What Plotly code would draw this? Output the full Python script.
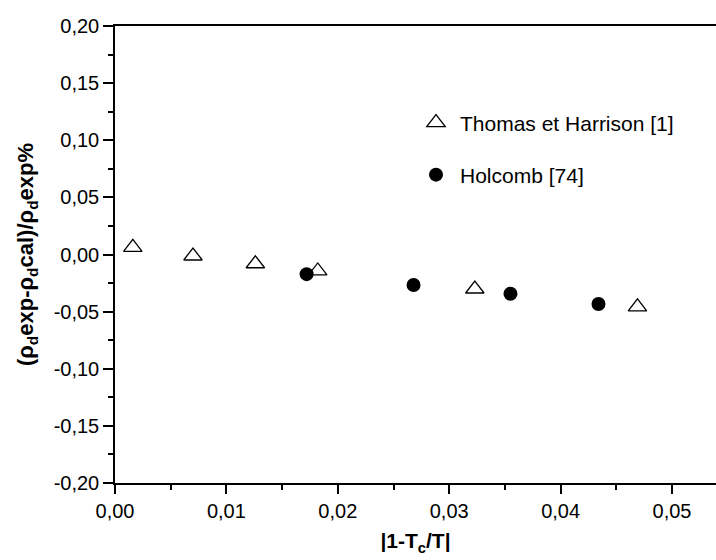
import plotly.graph_objects as go

# Data
thomas_x = [0.0016, 0.0070, 0.0126, 0.0182, 0.0323, 0.0469]
thomas_y = [0.0063, -0.0013, -0.0081, -0.0144, -0.0302, -0.0458]
holcomb_x = [0.0172, 0.0268, 0.0355, 0.0434]
holcomb_y = [-0.0172, -0.0267, -0.0343, -0.0433]

x_tickvals = [0.00, 0.01, 0.02, 0.03, 0.04, 0.05]
x_ticktext = ["0,00", "0,01", "0,02", "0,03", "0,04", "0,05"]
y_tickvals = [-0.20, -0.15, -0.10, -0.05, 0.00, 0.05, 0.10, 0.15, 0.20]
y_ticktext = ["-0,20", "-0,15", "-0,10", "-0,05", "0,00", "0,05", "0,10", "0,15", "0,20"]

W, H = 716, 560
ML, MT, MB, MR = 115, 26, 77, 0
pw = W - ML - MR
ph = H - MT - MB

FONT = "Liberation Sans, Arial, sans-serif"

fig = go.Figure()
fig.add_trace(go.Scatter(
    x=thomas_x, y=thomas_y, mode="markers", name="Thomas et Harrison [1]",
    marker=dict(symbol="triangle-up-open", size=16, color="black", line=dict(width=1.3, color="black")),
    legend="legend",
))
fig.add_trace(go.Scatter(
    x=holcomb_x, y=holcomb_y, mode="markers", name="Holcomb [74]",
    marker=dict(symbol="circle", size=14, color="black"),
    legend="legend2",
))

def lx(px):
    return (px - ML) / pw

def ly(py):
    return (H - MB - py) / ph

legend_common = dict(
    bgcolor="rgba(0,0,0,0)", borderwidth=0,
    font=dict(family=FONT, size=21, color="black"),
    xanchor="left", yanchor="middle", itemwidth=38,
)

fig.update_layout(
    width=W, height=H,
    margin=dict(l=ML, r=MR, t=MT, b=MB),
    paper_bgcolor="white", plot_bgcolor="white",
    font=dict(family=FONT, size=20, color="black"),
    showlegend=True,
    legend=dict(x=lx(412), y=ly(123), **legend_common),
    legend2=dict(x=lx(412), y=ly(175), **legend_common),
    xaxis=dict(
        range=[0, pw / 11140.0],
        tickvals=x_tickvals, ticktext=x_ticktext,
        ticks="outside", ticklen=9, tickwidth=1.5, tickcolor="black",
        minor=dict(dtick=0.005, ticks="outside", ticklen=5, tickwidth=1.5, tickcolor="black", showgrid=False),
        showline=True, linecolor="black", linewidth=1.5, mirror=True,
        showgrid=False, zeroline=False,
        tickfont=dict(family=FONT, size=20),
        title=dict(text="<b>|1-T<sub>c</sub>/T|</b>", font=dict(family=FONT, size=21), standoff=13),
    ),
    yaxis=dict(
        range=[-0.20, 0.20],
        tickvals=y_tickvals, ticktext=y_ticktext,
        ticks="outside", ticklen=10, tickwidth=1.5, tickcolor="black",
        minor=dict(dtick=0.025, ticks="outside", ticklen=5, tickwidth=1.5, tickcolor="black", showgrid=False),
        showline=True, linecolor="black", linewidth=1.5, mirror=False,
        showgrid=False, zeroline=False,
        tickfont=dict(family=FONT, size=20),
        title=dict(text="<b>(ρ<sub>d</sub>exp-ρ<sub>d</sub>cal)/ρ<sub>d</sub>exp%</b>",
                   font=dict(family=FONT, size=22), standoff=14),
    ),
)

fig.write_html("out.html")
